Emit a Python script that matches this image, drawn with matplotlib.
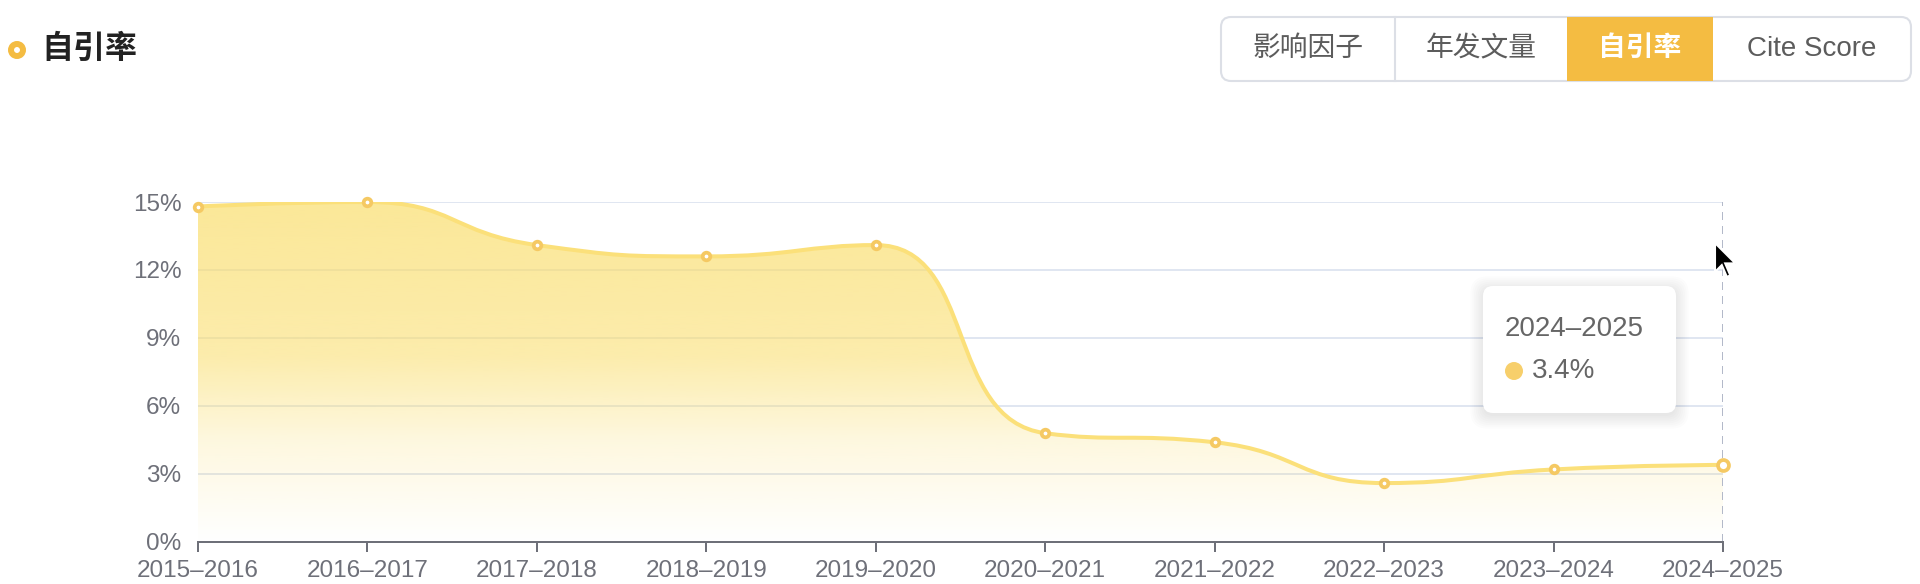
import matplotlib.pyplot as plt
import numpy as np
from matplotlib.path import Path
from matplotlib.patches import PathPatch, FancyBboxPatch, Circle, Rectangle, Polygon

plt.rcParams['font.family'] = ['Liberation Sans', 'Noto Sans CJK SC', 'DejaVu Sans']

# data
years = ['2015–2016', '2016–2017', '2017–2018', '2018–2019', '2019–2020',
         '2020–2021', '2021–2022', '2022–2023', '2023–2024', '2024–2025']
rates = [14.8, 15.0, 13.1, 12.6, 13.1, 4.8, 4.4, 2.6, 3.2, 3.4]
y_ticks = [0, 3, 6, 9, 12, 15]
tabs = ['影响因子', '年发文量', '自引率', 'Cite Score']
active_tab = 2
title = '自引率'
hover_idx = 9

LINE = '#FBE07A'
MARK = '#F5C963'
ORANGE = '#F4BC42'
AXIS = '#6E7079'

W, H = 1920, 584
fig = plt.figure(figsize=(W / 100, H / 100), dpi=100)
ax = fig.add_axes([198 / W, 42 / H, (1723 - 198) / W, 340 / H])
x = np.arange(len(years))
ax.set_xlim(0, len(years) - 1)
ax.set_ylim(0, 15)


def smooth_path(xs, ys, smooth=0.5):
    # echarts style smoothed bezier, computed in pixel space
    pts = ax.transData.transform(np.column_stack([xs, ys]))
    verts = [pts[0]]
    codes = [Path.MOVETO]
    cp0 = pts[0]
    n = len(pts)
    for i in range(1, n):
        px, py = pts[i - 1]
        cx, cy = pts[i]
        if i == n - 1:
            cp1 = (cx, cy)
            ncp0 = None
        else:
            nx, ny = pts[i + 1]
            vx, vy = nx - px, ny - py
            l0 = np.hypot(cx - px, cy - py)
            l1 = np.hypot(nx - cx, ny - cy)
            r = l1 / (l0 + l1)
            ncx = cx + vx * smooth * r
            ncy = cy + vy * smooth * r
            ncx = min(ncx, max(nx, cx)); ncy = min(ncy, max(ny, cy))
            ncx = max(ncx, min(nx, cx)); ncy = max(ncy, min(ny, cy))
            vx, vy = ncx - cx, ncy - cy
            c1x = cx - vx * l0 / l1
            c1y = cy - vy * l0 / l1
            c1x = min(c1x, max(px, cx)); c1y = min(c1y, max(py, cy))
            c1x = max(c1x, min(px, cx)); c1y = max(c1y, min(py, cy))
            cp1 = (c1x, c1y)
            vx, vy = cx - c1x, cy - c1y
            ncp0 = (cx + vx * l1 / l0, cy + vy * l1 / l0)
        verts += [cp0, cp1, (cx, cy)]
        codes += [Path.CURVE4] * 3
        cp0 = ncp0
    verts = ax.transData.inverted().transform(np.array(verts))
    return verts, codes


verts, codes = smooth_path(x, rates)

# gradient area
area_verts = np.vstack([verts, [[x[-1], 0], [x[0], 0], [x[0], 0]]])
area_codes = codes + [Path.LINETO, Path.LINETO, Path.CLOSEPOLY]
area = PathPatch(Path(area_verts, area_codes), facecolor='none', edgecolor='none')
ax.add_patch(area)
frac = np.linspace(0, 1, 256)
alpha = np.interp(frac, [0, 0.3, 0.55, 1], [0.0, 0.22, 0.57, 0.7])
grad = np.zeros((256, 1, 4))
grad[..., 0] = 250 / 255
grad[..., 1] = 222 / 255
grad[..., 2] = 108 / 255
grad[:, 0, 3] = alpha
img = ax.imshow(grad, extent=[x[0], x[-1], 0, max(rates)], origin='lower',
                aspect='auto', zorder=1, interpolation='bilinear')
img.set_clip_path(area)

ax.add_patch(PathPatch(Path(verts, codes), facecolor='none', edgecolor=LINE,
                       lw=2.9, zorder=3, capstyle='round', joinstyle='round'))

normal = [i for i in range(len(rates)) if i != hover_idx]
ax.scatter(x[normal], [rates[i] for i in normal], s=30, facecolor='white',
           edgecolor=MARK, linewidth=2.7, zorder=5, clip_on=False)
ax.scatter([x[hover_idx]], [rates[hover_idx]], s=62, facecolor='white',
           edgecolor=MARK, linewidth=2.7, zorder=5, clip_on=False)

# axis pointer
ax.axvline(x[hover_idx], color='#B3B9C9', lw=1.44, ls=(0, (4, 3)), zorder=2)

ax.set_xlim(0, len(years) - 1)
ax.set_ylim(0, 15)
ax.set_xticks(x)
ax.set_xticklabels(years)
ax.set_yticks(y_ticks)
ax.set_yticklabels([f'{t}%' for t in y_ticks])
ax.yaxis.grid(True, color='#E0E6F1', lw=1.44)
ax.set_axisbelow(True)
for s in ['top', 'right', 'left']:
    ax.spines[s].set_visible(False)
ax.spines['bottom'].set_color(AXIS)
ax.spines['bottom'].set_linewidth(1.44)
ax.tick_params(axis='x', length=7.2, width=1.44, color=AXIS, labelcolor=AXIS,
               labelsize=17.5, pad=6)
ax.tick_params(axis='y', length=0, labelcolor=AXIS, labelsize=17.5, pad=12)

# overlay in pixel coordinates
ov = fig.add_axes([0, 0, 1, 1], zorder=10)
ov.set_xlim(0, W)
ov.set_ylim(H, 0)
ov.axis('off')

# title
ov.add_patch(Circle((17, 50), 6, facecolor='white', edgecolor=ORANGE, lw=4.3))
ov.text(41, 49, title, fontsize=23, fontweight='bold', color='#222222',
        va='center', ha='left', family=['Noto Sans CJK SC', 'DejaVu Sans'])

# tab buttons
bx0, bx1, by0, by1 = 1221, 1911, 17, 81
edges = [1221, 1395, 1567, 1713, 1911]
ov.add_patch(Rectangle((edges[active_tab], by0), edges[active_tab + 1] - edges[active_tab],
                       by1 - by0, facecolor=ORANGE, edgecolor='none', zorder=2))
ov.add_patch(FancyBboxPatch((bx0, by0), bx1 - bx0, by1 - by0,
                            boxstyle='round,pad=0,rounding_size=10',
                            facecolor='none', edgecolor='#DCDFE6', lw=1.5, zorder=1))
ov.plot([edges[1], edges[1]], [by0, by1], color='#DCDFE6', lw=1.5, zorder=1)
for i, t in enumerate(tabs):
    cx = (edges[i] + edges[i + 1]) / 2
    ov.text(cx, 49, t, fontsize=20, color='white' if i == active_tab else '#5C5C5C',
            ha='center', va='center', zorder=3,
            fontweight='bold' if i == active_tab else 'normal')

# tooltip
tx, ty, tw, th = 1483, 286, 193, 127
for k in range(8):
    ov.add_patch(FancyBboxPatch((tx - k * 1.8, ty - k * 1.8 + 3), tw + k * 3.6, th + k * 3.6,
                                boxstyle=f'round,pad=0,rounding_size={10 + k}',
                                facecolor='black', edgecolor='none', alpha=0.012, zorder=4))
ov.add_patch(FancyBboxPatch((tx, ty), tw, th, boxstyle='round,pad=0,rounding_size=10',
                            facecolor='white', edgecolor='none', zorder=5))
ov.text(1505, 329, years[hover_idx], fontsize=20, color='#666666', va='center',
        ha='left', zorder=6)
ov.add_patch(Circle((1514, 371), 9, facecolor='#F7CF6B', edgecolor='none', zorder=6))
ov.text(1532, 371, f'{rates[hover_idx]}%', fontsize=20, color='#666666', va='center',
        ha='left', zorder=6)

# mouse cursor
cur = np.array([[0, 0], [0, 17], [4, 13], [7, 20], [9, 19], [6, 12], [12, 12]]) * 1.7
cur = cur + [1715, 243]
ov.add_patch(Polygon(cur, closed=True, facecolor='black', edgecolor='white', lw=1.5,
                     zorder=7))

fig.savefig('out.png', dpi=100)
